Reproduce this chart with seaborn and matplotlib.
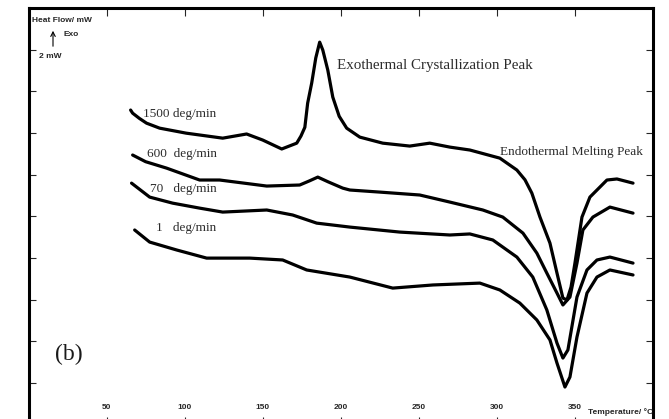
import matplotlib
matplotlib.use("Agg")
import matplotlib.pyplot as plt
import seaborn as sns

# DSC traces (temperature in deg C, heat flow in mW, exo up)
temp_1500 = [65.4, 66.7, 71.0, 75.6, 84.0, 101.0, 124.4, 139.7, 150.0, 162.2, 171.8, 174.5, 177.0,
             178.8, 181.4, 184.0, 186.5, 188.5, 191.7, 194.9, 199.0, 203.8, 212.2, 226.9, 244.2,
             257.0, 269.9, 282.7, 301.9, 312.8, 318.0, 322.4, 327.6, 334.0, 338.5, 342.3, 344.9,
             347.5, 350.0, 354.5, 359.6, 370.5, 376.9, 387.2]
flow_1500 = [15.10, 14.95, 14.70, 14.47, 14.23, 13.99, 13.75, 13.95, 13.66, 13.23, 13.51, 13.85, 14.27,
             15.43, 16.40, 17.60, 18.36, 17.98, 17.02, 15.72, 14.80, 14.23, 13.80, 13.51, 13.37,
             13.51, 13.32, 13.18, 12.79, 12.22, 11.75, 11.11, 9.96, 8.71, 7.27, 6.07, 5.98,
             6.60, 7.75, 9.96, 10.92, 11.74, 11.79, 11.59]

temp_600 = [66.7, 75.0, 88.5, 109.6, 122.4, 152.6, 173.7, 180.0, 185.3, 192.0, 201.3, 205.8, 225.0,
            250.6, 269.9, 291.0, 303.8, 316.7, 325.6, 332.0, 338.5, 342.3, 346.8, 351.3, 355.1,
            361.5, 372.4, 387.2]
flow_600 = [12.94, 12.62, 12.31, 11.74, 11.74, 11.45, 11.50, 11.70, 11.88, 11.65, 11.35, 11.26, 11.16,
            11.02, 10.68, 10.30, 9.96, 9.19, 8.23, 7.27, 6.31, 5.74, 6.12, 7.75, 9.34,
            9.96, 10.44, 10.15]

temp_70 = [66.0, 77.6, 92.3, 109.6, 124.4, 152.6, 169.2, 184.6, 205.8, 237.8, 269.9, 282.7,
           297.4, 312.8, 323.0, 332.0, 338.5, 342.3, 345.5, 351.3, 357.7, 364.1, 372.4, 387.2]
flow_70 = [11.59, 10.92, 10.63, 10.39, 10.20, 10.30, 10.06, 9.67, 9.48, 9.24, 9.10, 9.15,
           8.86, 8.04, 7.08, 5.50, 3.91, 3.19, 3.58, 6.12, 7.42, 7.90, 8.04, 7.75]

temp_1 = [68.0, 77.6, 94.9, 114.1, 141.7, 162.8, 178.2, 205.8, 233.3, 259.0, 289.1, 301.9,
          314.7, 325.6, 334.0, 338.5, 343.6, 346.8, 351.3, 357.7, 364.1, 372.4, 387.2]
flow_1 = [9.34, 8.76, 8.38, 7.99, 7.99, 7.90, 7.42, 7.08, 6.55, 6.70, 6.79, 6.46,
          5.83, 5.02, 4.06, 2.95, 1.80, 2.28, 4.20, 6.31, 7.08, 7.42, 7.18]

rate_labels = ["1500 deg/min", "600  deg/min", "70   deg/min", "1   deg/min"]
label_flow = [14.92, 12.98, 11.33, 9.45]
x_ticks = [50, 100, 150, 200, 250, 300, 350]

sns.set_style("ticks")
plt.rcParams['font.family'] = ['Liberation Serif', 'DejaVu Serif']

W, H = 669, 419
fig = plt.figure(figsize=(W / 100, H / 100), dpi=100)
ax = fig.add_axes([28.5 / W, -5.5 / H, 624.5 / W, 416.5 / H])

curves = [(temp_1500, flow_1500), (temp_600, flow_600), (temp_70, flow_70), (temp_1, flow_1)]
for t, f in curves:
    sns.lineplot(x=t, y=f, color='black', lw=2.3, ax=ax, estimator=None, sort=False,
                 solid_joinstyle='round', solid_capstyle='round')

ax.set_xlim(0, 400)
ax.set_ylim(0, 20)

for s in ax.spines.values():
    s.set_visible(True)
    s.set_linewidth(2.2)
    s.set_color('black')

ax.set_xticks(x_ticks)
ax.set_xticklabels([str(v) for v in x_ticks], fontfamily='Liberation Sans',
                   fontweight='bold', fontsize=6)
ax.set_yticks(range(2, 20, 2))
ax.set_yticklabels([])
ax.tick_params(axis='x', direction='in', length=5.5, width=0.8, top=True, pad=-14.5)
ax.tick_params(axis='y', direction='in', length=5, width=0.8, right=True)
ax.set_xlabel('')
ax.set_ylabel('')

txt_col = '#2b2b2b'
for lab, yv in zip(rate_labels, label_flow):
    ax.text(120.5, yv, lab, ha='right', va='center', fontsize=9.5, color=txt_col)

ax.text(197.4, 17.26, "Exothermal Crystallization Peak", ha='left', va='center',
        fontsize=10.8, color=txt_col)
ax.text(301.9, 13.08, "Endothermal Melting Peak", ha='left', va='center',
        fontsize=9.5, color=txt_col)
ax.text(16.7, 3.35, "(b)", ha='left', va='center', fontsize=17, color='#1a1a1a')

ax.text(358.3, 0.6, "Temperature/ °C", ha='left', va='center', fontsize=6,
        fontfamily='Liberation Sans', fontweight='bold', clip_on=False)

# header in the top-left corner
fig.text(32 / W, 1 - 20 / H, "Heat Flow/ mW", ha='left', va='center', fontsize=6,
         fontfamily='Liberation Sans', fontweight='bold')
fig.text(64 / W, 1 - 34 / H, "Exo", ha='left', va='center', fontsize=6,
         fontfamily='Liberation Sans', fontweight='bold')
fig.text(39 / W, 1 - 57 / H, "2 mW", ha='left', va='center', fontsize=6,
         fontfamily='Liberation Sans', fontweight='bold')
ax.annotate('', xy=(53 / W, 1 - 28 / H), xytext=(53 / W, 1 - 49 / H),
            xycoords='figure fraction', textcoords='figure fraction',
            arrowprops=dict(arrowstyle='->', lw=0.8, color='black', mutation_scale=8))

fig.savefig("out.png", dpi=100)
